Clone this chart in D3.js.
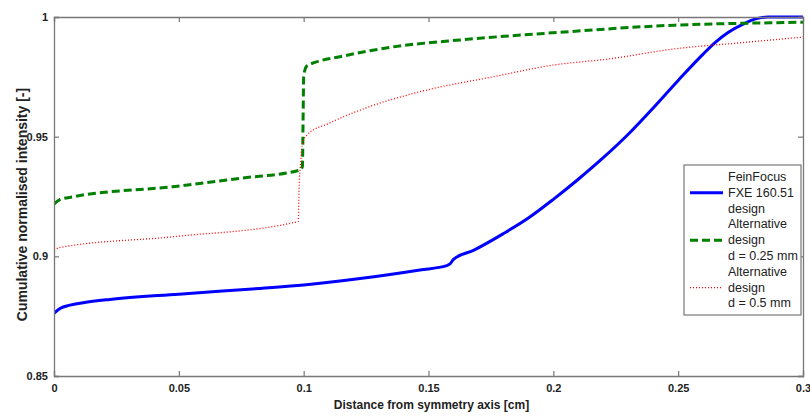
<!DOCTYPE html>
<html><head><meta charset="utf-8">
<script src="https://cdn.jsdelivr.net/npm/d3@7"></script>
<style>
body{margin:0;background:#fff;}
svg{display:block;}
text{font-family:"Liberation Sans",Arial,sans-serif;fill:#222;}
</style></head>
<body>
<svg id="chart" width="810" height="416"></svg>
<script>
// ---- data ----
const xTicks = [0, 0.05, 0.1, 0.15, 0.2, 0.25, 0.3];
const yTicks = [0.85, 0.9, 0.95, 1];
const xTickLabels = ["0", "0.05", "0.1", "0.15", "0.2", "0.25", "0.3"];
const yTickLabels = ["0.85", "0.9", "0.95", "1"];

const blueX = [0, 0.0024, 0.0064, 0.0117, 0.0224, 0.05, 0.0825, 0.1, 0.1226, 0.1466, 0.1573, 0.1586, 0.16, 0.168, 0.18, 0.19, 0.2, 0.21, 0.22, 0.23, 0.24, 0.25, 0.26, 0.265, 0.27, 0.276, 0.281, 0.286, 0.3];
const blueY = [0.8762, 0.8782, 0.8796, 0.8806, 0.882, 0.8842, 0.8866, 0.888, 0.8907, 0.8943, 0.8961, 0.8968, 0.8987, 0.9025, 0.9095, 0.916, 0.9238, 0.9322, 0.9412, 0.951, 0.962, 0.9735, 0.9845, 0.9895, 0.9935, 0.997, 0.9992, 1.0, 1.0];

const greenX = [0, 0.002, 0.0077, 0.0477, 0.0745, 0.0985, 0.0995, 0.0998, 0.1, 0.1012, 0.1045, 0.1145, 0.1358, 0.1626, 0.1999, 0.2487, 0.288, 0.3];
const greenY = [0.9218, 0.9235, 0.9249, 0.9291, 0.9326, 0.936, 0.9375, 0.96, 0.975, 0.9795, 0.981, 0.9834, 0.9875, 0.9904, 0.9934, 0.9966, 0.9976, 0.9978];

const redX = [0, 0.0024, 0.0477, 0.0972, 0.0978, 0.0982, 0.0987, 0.0992, 0.1, 0.1013, 0.11, 0.1226, 0.1494, 0.1758, 0.1999, 0.2217, 0.2487, 0.2758, 0.3];
const redY = [0.9026, 0.9037, 0.9082, 0.9144, 0.9146, 0.93, 0.9375, 0.945, 0.9486, 0.9507, 0.9555, 0.9611, 0.9695, 0.975, 0.9799, 0.9824, 0.9867, 0.9893, 0.9916];

const seriesNames = [["FeinFocus", "FXE 160.51", "design"], ["Alternative", "design", "d = 0.25 mm"], ["Alternative", "design", "d = 0.5 mm"]];

// ---- layout ----
const L = 54, R = 803, T = 17, B = 376;
const svg = d3.select("#chart");
const x = d3.scaleLinear().domain([0, 0.3]).range([L, R]);
const y = d3.scaleLinear().domain([0.85, 1]).range([B, T]);

const series = [
  {xs: blueX, ys: blueY, color: "#0000ff", width: 3, dash: null},
  {xs: greenX, ys: greenY, color: "#008000", width: 3, dash: "8,4"},
  {xs: redX, ys: redY, color: "#ff0000", width: 1.3, dash: "1,2"}
];

const line = d3.line().x(d => x(d[0])).y(d => y(d[1])).curve(d3.curveMonotoneX);
svg.append("clipPath").attr("id","clip").append("rect")
  .attr("x", L).attr("y", T - 2).attr("width", R - L).attr("height", B - T + 2);

series.forEach(s => {
  const pts = s.xs.map((v, i) => [v, s.ys[i]]);
  svg.append("path").attr("d", line(pts)).attr("fill", "none")
    .attr("stroke", s.color).attr("stroke-width", s.width)
    .attr("stroke-dasharray", s.dash).attr("clip-path", "url(#clip)");
});

// ---- axes (box with inward ticks) ----
const axisColor = "#777";
const gBottom = svg.append("g").attr("transform", `translate(0,${B})`)
  .call(d3.axisBottom(x).tickValues(xTicks).tickSize(-5).tickPadding(8).tickFormat((d, i) => xTickLabels[i]));
const gTop = svg.append("g").attr("transform", `translate(0,${T})`)
  .call(d3.axisTop(x).tickValues(xTicks).tickSize(-5).tickFormat(""));
const gLeft = svg.append("g").attr("transform", `translate(${L},0)`)
  .call(d3.axisLeft(y).tickValues(yTicks).tickSize(-5).tickPadding(6).tickFormat((d, i) => yTickLabels[i]));
const gRight = svg.append("g").attr("transform", `translate(${R},0)`)
  .call(d3.axisRight(y).tickValues(yTicks).tickSize(-5).tickFormat(""));
[gBottom, gTop, gLeft, gRight].forEach(g => {
  g.select(".domain").attr("stroke", axisColor).attr("stroke-width", 1.3);
  g.selectAll(".tick line").attr("stroke", axisColor).attr("stroke-width", 1.2);
  g.selectAll("text").attr("font-family", "Liberation Sans, Arial, sans-serif")
    .attr("font-size", 11).attr("font-weight", "bold").attr("fill", "#222");
});

// ---- titles ----
svg.append("text").attr("x", (L + R) / 2 + 3).attr("y", 409).attr("text-anchor", "middle")
  .attr("font-size", 12).attr("font-weight", "bold").text("Distance from symmetry axis [cm]");
svg.append("text").attr("transform", `translate(27,${(T + B) / 2 + 8}) rotate(-90)`)
  .attr("text-anchor", "middle").attr("font-size", 14).attr("font-weight", "bold")
  .text("Cumulative normalised intensity [-]");

// ---- legend ----
const lg = svg.append("g");
const lx = 684, ly = 165, lw = 117, lh = 150;
lg.append("rect").attr("x", lx).attr("y", ly).attr("width", lw).attr("height", lh)
  .attr("fill", "#fff").attr("stroke", axisColor).attr("stroke-width", 1.2);
const lineH = 15.8;
seriesNames.forEach((names, k) => {
  const s = series[k];
  names.forEach((t, j) => {
    lg.append("text").attr("x", 728).attr("y", ly + 16 + (k * 3 + j) * lineH)
      .attr("font-size", 12.5).attr("fill", "#222").text(t);
  });
  const cy = ly + 12 + (k * 3 + 1) * lineH;
  lg.append("line").attr("x1", 690).attr("x2", 723).attr("y1", cy).attr("y2", cy)
    .attr("stroke", s.color).attr("stroke-width", s.width).attr("stroke-dasharray", s.dash);
});
</script>
</body></html>
